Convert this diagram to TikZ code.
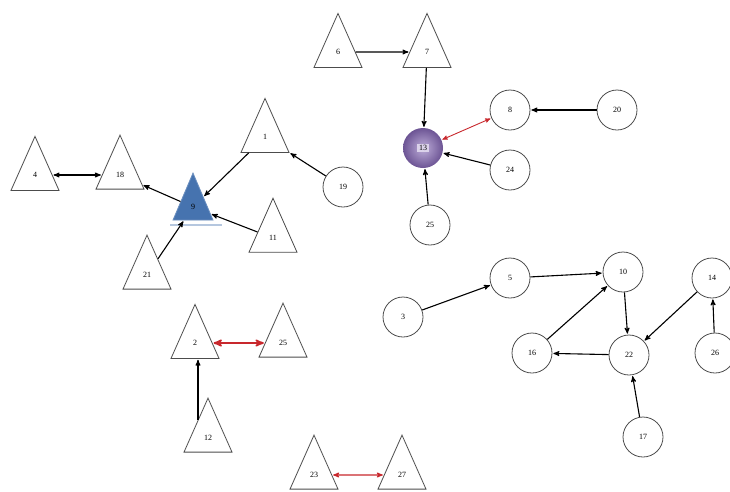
\documentclass[tikz,border=0pt]{standalone}
\usepackage{fontspec}
\setmainfont{Liberation Serif}
\usetikzlibrary{arrows,shapes,petri}

\definecolor{edgered}{RGB}{200,40,45}
\definecolor{nodeblue}{RGB}{70,115,175}
\definecolor{nodepurple}{RGB}{135,105,185}

\begin{document}
\begin{tikzpicture}[x=1pt,y=-1pt,>=stealth',font=\fontsize{8}{9}\selectfont]
    \tikzstyle{tri}=[isosceles triangle,shape border rotate=90,isosceles triangle stretches,draw=black!70,line width=0.8pt,minimum width=48pt,minimum height=54pt,inner sep=0pt]
    \tikzstyle{ring}=[circle,draw=black!70,line width=0.8pt,minimum size=40pt,inner sep=0pt]
    \tikzstyle{pre}=[<-,line width=1.1pt,shorten <=1pt]
    \tikzstyle{both}=[<->,line width=1.1pt,shorten <=1pt,shorten >=1pt]
    \tikzstyle{redboth}=[both,draw=edgered]

    \useasboundingbox (0,0) rectangle (730,491);

    \begin{scope}
      % left group
      \draw [nodeblue!40,line width=2.5pt] (170,225) -- (222,225);
      \node [tri] at (35,175) (n4) {4};
      \node [tri] at (120,175) (n18) {18}
        edge [both] (n4);
      \node [ring] at (343,187) (n19) {19};
      \node [tri] at (265,137) (n1) {1}
        edge [pre] (n19);
      \node [tri] at (273,238) (n11) {11};
      \node [tri] at (147,275) (n21) {21};
      \node [tri,fill=nodeblue,draw=nodeblue!80,minimum width=40pt,minimum height=47pt] at (193,207) (n9) {9}
        edge [pre] (n1)
        edge [pre] (n11)
        edge [pre] (n21);
      \draw [->,line width=1.1pt,shorten >=1pt] (n9) -- (n18);

      % top group
      \node [tri] at (338,52) (n6) {6};
      \node [tri] at (427,52) (n7) {7}
        edge [pre] (n6);
      \node [ring] at (617,110) (n20) {20};
      \node [ring] at (510,110) (n8) {8}
        edge [pre] (n20);
      \node [ring] at (510,170) (n24) {24};
      \node [ring] at (430,225) (n25c) {25};
      \node [circle,inner color=nodepurple!55!white,outer color=nodepurple!80!black,minimum size=40pt,inner sep=0pt] at (423,148) (n13) {};
      \node [fill=nodepurple!30,inner sep=1.8pt] at (n13) {13};
      \draw [pre] (n13) -- (n7);
      \draw [pre] (n13) -- (n24);
      \draw [pre] (n13) -- (n25c);
      \draw [redboth,line width=0.9pt] (n13) -- (n8);

      % right group
      \node [ring] at (403,317) (n3) {3};
      \node [ring] at (510,278) (n5) {5}
        edge [pre] (n3);
      \node [ring] at (532,353) (n16) {16};
      \node [ring] at (623,272) (n10) {10}
        edge [pre] (n5)
        edge [pre] (n16);
      \node [ring] at (715,353) (n26) {26};
      \node [ring] at (712,278) (n14) {14}
        edge [pre] (n26);
      \node [ring] at (643,437) (n17) {17};
      \node [ring] at (629,355) (n22) {22}
        edge [pre] (n10)
        edge [pre] (n14)
        edge [pre] (n17);
      \draw [pre] (n16) -- (n22);

      % bottom group
      \node [tri] at (195,343) (n2) {2};
      \node [tri] at (283,343) (n25t) {25}
        edge [redboth,line width=1.8pt] (n2);
      \node [tri] at (208,438) (n12) {12};
      \draw [pre] ([xshift=3pt]n2.south) -- ([xshift=3pt,yshift=18pt]n2.south |- n12.center);
      \node [tri] at (314,475) (n23) {23};
      \node [tri] at (402,475) (n27) {27}
        edge [redboth] (n23);
    \end{scope}

\end{tikzpicture}
\end{document}
